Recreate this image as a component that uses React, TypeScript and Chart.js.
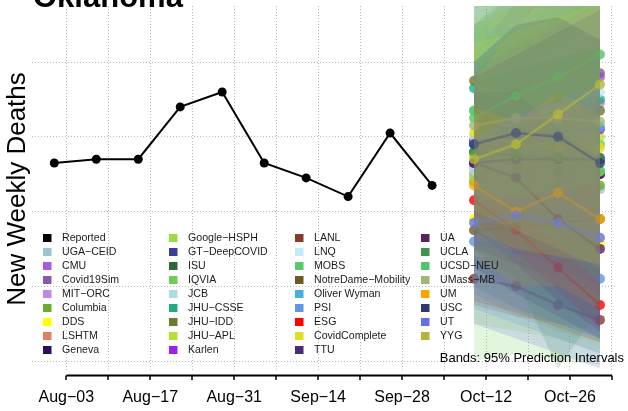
import React, { useEffect, useRef } from 'react';
import { Chart, registerables } from 'chart.js';

Chart.register(...registerables);

const FONT = '"Liberation Sans", Arial, Helvetica, sans-serif';

const ORIGIN_DATE = '2020-08-03';

const REPORTED_DATES = [
  '2020-08-01', '2020-08-08', '2020-08-15', '2020-08-22', '2020-08-29',
  '2020-09-05', '2020-09-12', '2020-09-19', '2020-09-26', '2020-10-03',
];
const REPORTED_VALUES = [73, 74, 74, 88, 92, 73, 69, 64, 81, 67];

const FORECAST_DATES = ['2020-10-10', '2020-10-17', '2020-10-24', '2020-10-31'];

const TICK_DATES = [
  '2020-08-03', '2020-08-10', '2020-08-17', '2020-08-24', '2020-08-31',
  '2020-09-07', '2020-09-14', '2020-09-21', '2020-09-28', '2020-10-05',
  '2020-10-12', '2020-10-19', '2020-10-26', '2020-11-02',
];
const TICK_LABELS = [
  'Aug\u221203', '', 'Aug\u221217', '', 'Aug\u221231', '', 'Sep\u221214', '',
  'Sep\u221228', '', 'Oct\u221212', '', 'Oct\u221226', '',
];

const Y_GRID_VALUES = [20, 40, 60, 80, 100];

const MODEL_NAMES = [
  'UGA\u2212CEID', 'CMU', 'Covid19Sim', 'MIT\u2212ORC', 'Columbia', 'DDS', 'LSHTM', 'Geneva',
  'Google\u2212HSPH', 'GT\u2212DeepCOVID', 'ISU', 'IQVIA', 'JCB', 'JHU\u2212CSSE', 'JHU\u2212IDD', 'JHU\u2212APL', 'Karlen',
  'LANL', 'LNQ', 'MOBS', 'NotreDame\u2212Mobility', 'Oliver Wyman', 'PSI', 'ESG', 'CovidComplete', 'TTU',
  'UA', 'UCLA', 'UCSD\u2212NEU', 'UMass\u2212MB', 'UM', 'USC', 'UT', 'YYG',
];

const MODEL_COLORS = [
  '#9BC4D2', '#A85BD6', '#8B57A6', '#C387E3', '#6AAB2E', '#FFFF00', '#DF8066', '#2B0E5C',
  '#9BDB45', '#3A3F99', '#2F6833', '#6CCF55', '#ADDBE9', '#22AC83', '#6B7A2B', '#B9E134', '#A020F0',
  '#8B3A2A', '#BFEBFA', '#58C96A', '#6E5A22', '#46AFDA', '#6494E4', '#FF0000', '#DDE01D', '#4B2A7C',
  '#5B2163', '#3F9150', '#52C46F', '#A3B775', '#FFA500', '#2E3A6F', '#6471E0', '#B3B63A',
];

const MODEL_MEDIAN = [
  [72, 70, 68, 66], [79, 84, 90, 96], [78, 86, 92, 97], [76, 80, 85, 89],
  [68, 68, 67, 67], [58, 56, 54, 51.5], [70, 70.5, 70, 70], [73, 72, 71, 70],
  [69, 70, 70.5, 70.7], [78, 76, 75, 74], [75.7, 75, 74.7, 74.4], [87, 84, 81, 78],
  [71, 72, 73, 74], [93, 92, 91, 90], [95, 92, 89, 87], [75, 77, 79, 80], [79, 80, 81, 82],
  [42, 40, 35, 31], [80, 84, 88, 92], [87, 80, 75, 71], [55, 56, 57, 58],
  [78, 80, 81.5, 82.7], [52, 49, 46.4, 42], [63, 55, 45, 35], [81, 78, 77, 77], [73, 74, 74, 74],
  [73, 69, 58, 50], [76, 75, 74.5, 74], [85, 91, 96, 102], [83, 85, 85, 84],
  [67, 60, 65, 58], [78, 81, 80, 73], [57, 59, 57, 53], [74, 78, 86, 94],
];

const MODEL_LOWER = [
  [50, 45, 40, 36], [60, 58, 56, 54], [62, 64, 66, 68], [58, 56, 55, 54],
  [45, 40, 35, 30], [40, 34, 28, 24], [38, 32, 28, 25], [55, 50, 45, 40],
  [30, 28, 26, 22], [40, 34, 30, 26], [55, 50, 45, 40], [20, 22, 20, 19],
  [52, 48, 44, 40], [70, 62, 55, 50], [60, 52, 45, 40], [50, 46, 42, 38], [62, 58, 54, 50],
  [36, 33, 29, 25], [60, 60, 60, 60], [65, 55, 48, 42], [35, 32, 30, 28],
  [38, 34, 30, 26], [34, 30, 26, 22], [58, 49, 39, 29], [60, 55, 50, 45], [50, 46, 42, 38],
  [55, 46, 36, 28], [50, 42, 18, 34], [62, 64, 66, 68], [60, 55, 50, 45],
  [48, 40, 40, 34], [45, 38, 32, 26], [30, 26, 22, 18], [55, 50, 48, 46],
];

const MODEL_UPPER = [
  [98, 102, 106, 110], [102, 116, 130, 145], [96, 110, 122, 134], [98, 106, 116, 126],
  [98, 108, 118, 128], [80, 84, 88, 92], [110, 118, 126, 134], [92, 96, 100, 104],
  [110, 115, 120, 125], [96, 100, 104, 108], [100, 106, 112, 118], [150, 145, 140, 135],
  [92, 98, 104, 110], [120, 125, 130, 135], [140, 145, 150, 155], [100, 110, 118, 126], [98, 104, 110, 116],
  [48, 47, 42, 38], [100, 110, 120, 130], [110, 108, 106, 104], [78, 82, 86, 90],
  [100, 110, 118, 126], [66, 64, 62, 60], [68, 61, 51, 41], [105, 108, 112, 116], [96, 102, 108, 114],
  [92, 92, 82, 74], [95, 98, 101, 104], [110, 120, 130, 140], [108, 118, 126, 134],
  [88, 84, 92, 86], [100, 110, 112, 106], [80, 86, 90, 94], [95, 110, 125, 140],
];

const dayOf = (d: string) => (Date.parse(d) - Date.parse(ORIGIN_DATE)) / 86400000;

const rgba = (hex: string, a: number) => {
  const n = parseInt(hex.slice(1), 16);
  return `rgba(${(n >> 16) & 255},${(n >> 8) & 255},${n & 255},${a})`;
};

const overlayPlugin = {
  id: 'overlay',
  afterDraw(chart: any) {
    const ctx = chart.ctx as CanvasRenderingContext2D;
    const xs = chart.scales.x;
    const area = chart.chartArea;
    ctx.save();
    const axisY = area.bottom + 3.5;
    const ticks = TICK_DATES.map(dayOf);
    ctx.strokeStyle = '#000';
    ctx.lineWidth = 2.2;
    ctx.beginPath();
    ctx.moveTo(xs.getPixelForValue(ticks[0]), axisY);
    ctx.lineTo(xs.getPixelForValue(ticks[ticks.length - 1]), axisY);
    ctx.stroke();
    ctx.lineWidth = 1.5;
    ctx.beginPath();
    ticks.forEach((t) => {
      const px = Math.round(xs.getPixelForValue(t));
      ctx.moveTo(px, axisY);
      ctx.lineTo(px, axisY + 4.5);
    });
    ctx.stroke();

    ctx.fillStyle = '#000';
    ctx.font = `bold 31px ${FONT}`;
    ctx.textAlign = 'left';
    ctx.textBaseline = 'alphabetic';
    ctx.fillText('Oklahoma', 33, 7);

    const items = [{ name: 'Reported', color: '#000000' }].concat(
      MODEL_NAMES.map((n, i) => ({ name: n, color: MODEL_COLORS[i] }))
    );
    ctx.font = `10.6px ${FONT}`;
    ctx.textBaseline = 'middle';
    items.forEach((it, i) => {
      const col = Math.floor(i / 9);
      const row = i % 9;
      const x = 43 + col * 126;
      const y = 238 + row * 14;
      ctx.fillStyle = it.color;
      ctx.fillRect(x, y - 4, 8.5, 8);
      ctx.fillStyle = '#1a1a1a';
      ctx.fillText(it.name, x + 19, y);
    });

    ctx.font = `13px ${FONT}`;
    ctx.textAlign = 'right';
    ctx.fillStyle = '#000';
    ctx.fillText('Bands: 95% Prediction Intervals', 624, 358);
    ctx.restore();
  },
};

export default function App() {
  const ref = useRef<HTMLCanvasElement>(null);

  useEffect(() => {
    const fx = FORECAST_DATES.map(dayOf);
    const datasets: any[] = [];
    MODEL_NAMES.forEach((name, i) => {
      const c = MODEL_COLORS[i];
      const base = 1000 - i * 3;
      datasets.push({
        label: name + ' lo',
        data: fx.map((x, k) => ({ x, y: MODEL_LOWER[i][k] })),
        borderWidth: 0,
        pointRadius: 0,
        borderColor: 'rgba(0,0,0,0)',
        fill: false,
        order: base,
      });
      datasets.push({
        label: name + ' hi',
        data: fx.map((x, k) => ({ x, y: MODEL_UPPER[i][k] })),
        borderWidth: 0,
        pointRadius: 0,
        borderColor: 'rgba(0,0,0,0)',
        backgroundColor: rgba(c, 0.2),
        fill: '-1',
        order: base - 1,
      });
      datasets.push({
        label: name,
        data: fx.map((x, k) => ({ x, y: MODEL_MEDIAN[i][k] })),
        borderColor: rgba(c, 0.6),
        borderWidth: 2.5,
        pointRadius: 5,
        pointBackgroundColor: rgba(c, 0.8),
        pointBorderWidth: 0,
        fill: false,
        order: base - 2,
      });
    });
    datasets.push({
      label: 'Reported',
      data: REPORTED_DATES.map((d, k) => ({ x: dayOf(d), y: REPORTED_VALUES[k] })),
      borderColor: '#000',
      borderWidth: 2,
      pointRadius: 4.5,
      pointBackgroundColor: '#000',
      pointBorderWidth: 0,
      fill: false,
      order: 0,
    });

    const gridColor = '#b9b9b9';
    const chart = new Chart(ref.current as HTMLCanvasElement, {
      type: 'line',
      data: { datasets },
      plugins: [overlayPlugin],
      options: {
        animation: false,
        responsive: false,
        devicePixelRatio: 1,
        layout: { padding: { left: 0, top: 6, right: 0, bottom: 0 } },
        elements: { line: { tension: 0 } },
        plugins: {
          legend: { display: false },
          tooltip: { enabled: false },
          title: { display: false },
        },
        scales: {
          x: {
            type: 'linear',
            min: -5.72,
            max: 91.68,
            afterBuildTicks: (axis: any) => {
              axis.ticks = TICK_DATES.map((d) => ({ value: dayOf(d) }));
            },
            afterFit: (s: any) => {
              s.height = 39;
            },
            grid: { color: gridColor, lineWidth: 1, drawTicks: false },
            border: { display: false, dash: [1, 2] },
            ticks: {
              autoSkip: false,
              maxRotation: 0,
              padding: 16,
              color: '#000',
              font: { family: FONT, size: 16 },
              callback: (_v: any, i: number) => TICK_LABELS[i],
            },
          },
          y: {
            type: 'linear',
            min: 17.06,
            max: 115,
            afterBuildTicks: (axis: any) => {
              axis.ticks = Y_GRID_VALUES.map((v) => ({ value: v }));
            },
            afterFit: (s: any) => {
              s.width = 32;
            },
            grid: { color: gridColor, lineWidth: 1, drawTicks: false },
            border: { display: false, dash: [1, 2] },
            ticks: { display: false },
            title: {
              display: true,
              text: 'New Weekly Deaths',
              color: '#000',
              font: { family: FONT, size: 26, lineHeight: 1.2 },
              padding: { top: 2.4, bottom: 0 },
            },
          },
        },
      } as any,
    });
    return () => chart.destroy();
  }, []);

  return (
    <div style={{ position: 'fixed', left: 0, top: 0, width: 628, height: 411, background: '#fff' }}>
      <canvas ref={ref} width={628} height={411} style={{ width: 628, height: 411, display: 'block' }} />
    </div>
  );
}
